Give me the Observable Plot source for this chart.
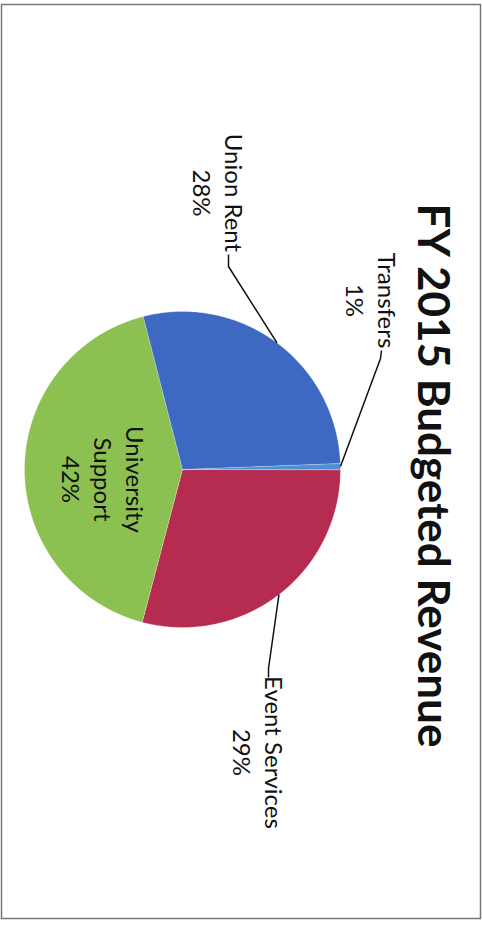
<!DOCTYPE html>
<html><head><meta charset="utf-8">
<script src="https://cdn.jsdelivr.net/npm/d3@7"></script>
<script src="https://cdn.jsdelivr.net/npm/@observablehq/plot@0.6"></script>
<style>html,body{margin:0;padding:0;background:#fff;}</style>
</head><body><div id="chart"></div>
<script>
// ---- data ----
const chartTitle = "FY 2015 Budgeted Revenue";
const categories = ["Event Services", "University Support", "Union Rent", "Transfers"];
const labelNames = ["Event Services", "University\nSupport", "Union Rent", "Transfers"];
const shares = [29.1, 41.9, 28.4, 0.6];
const colors = ["#b62c50", "#8cc152", "#3d69c3", "#4d90d6"];

// ---- layout (pie in unit coordinates, radius 1) ----
const W = 482, H = 928, R = 158, CX = 182, CY = 469;
const labelAt = [[0.4873, 1.791], [-0.4937, 0.0633], [0.2342, -1.75], [1.2025, -1.0696]];
const leaderBends = [
  [[0.5443, 1.2595], [0.5443, 1.3165]],
  null,
  [[0.2911, -1.2848], [0.2911, -1.3608]],
  [[1.2532, -0.7025], [1.2595, -0.7532]]
];
const titleAt = [1.5823, 0.038];

// ---- geometry from data ----
const arcs = d3.pie().sort(null).value(d => d)(shares);
const slicePts = [];
arcs.forEach((p, i) => {
  const a0 = p.startAngle, a1 = p.endAngle;
  const n = Math.max(2, Math.ceil((a1 - a0) / (Math.PI / 360)));
  slicePts.push({name: categories[i], x: 0, y: 0});
  for (let k = 0; k <= n; k++) {
    const a = a0 + (a1 - a0) * k / n;
    slicePts.push({name: categories[i], x: Math.cos(a), y: Math.sin(a)});
  }
});
const leaderPts = [];
arcs.forEach((p, i) => {
  if (!leaderBends[i]) return;
  const m = (p.startAngle + p.endAngle) / 2;
  leaderPts.push({name: categories[i], x: Math.cos(m), y: Math.sin(m)});
  leaderBends[i].forEach(([x, y]) => leaderPts.push({name: categories[i], x, y}));
});
const labels = categories.map((c, i) => ({
  name: c,
  x: labelAt[i][0], y: labelAt[i][1],
  text: `${labelNames[i]}\n${Math.round(shares[i])}%`
}));

const plot = Plot.plot({
  width: W, height: H,
  margin: 0,
  style: {background: "#fff"},
  x: {domain: [-CX / R, (W - CX) / R], range: [0, W], axis: null},
  y: {domain: [-CY / R, (H - CY) / R], range: [0, H], axis: null},
  color: {domain: categories, range: colors},
  marks: [
    Plot.frame({stroke: "#777", strokeWidth: 1.5, insetLeft: 1, insetTop: 4, insetRight: 2, insetBottom: 10}),
    Plot.line(slicePts, {x: "x", y: "y", z: "name", fill: "name", stroke: "#fff", strokeOpacity: 0.35, strokeWidth: 0.8, curve: "linear-closed"}),
    Plot.line(leaderPts, {x: "x", y: "y", z: "name", stroke: "#111", strokeWidth: 1.5, strokeLinecap: "butt", strokeLinejoin: "miter"}),
    Plot.text(labels, {x: "x", y: "y", text: "text", rotate: 90, fontSize: 24, lineHeight: 1.33,
      fontFamily: "Lato", fill: "#111", textAnchor: "middle", lineAnchor: "middle"}),
    Plot.text([chartTitle], {x: () => titleAt[0], y: () => titleAt[1], text: d => d, rotate: 90, fontSize: 44,
      fontWeight: "bold", fontFamily: "Lato", fill: "#111", textAnchor: "middle", lineAnchor: "middle"})
  ]
});
document.getElementById("chart").appendChild(plot);
</script>
</body></html>
